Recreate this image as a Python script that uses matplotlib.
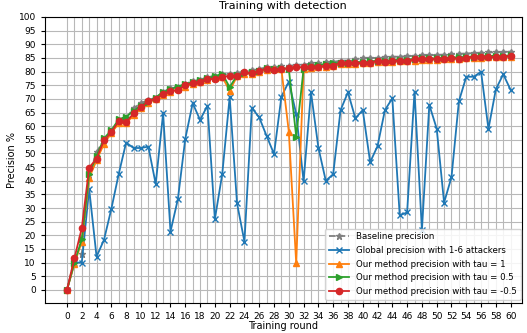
import matplotlib
matplotlib.use("Agg")
import matplotlib.pyplot as plt
import numpy as np
from matplotlib.ticker import FixedLocator

rounds = list(range(61))

baseline = [0, 11, 13, 42, 50.5, 55, 58, 62, 63, 66.5,
            68.5, 69.5, 70.5, 72.5, 74, 74.5, 75.5, 76.5, 77, 78,
            78.5, 79, 79, 79.5, 80, 80.5, 81, 81.5, 81.5, 82,
            82, 82.5, 82.5, 83, 83, 83.5, 83.5, 84, 84, 84.5,
            84.9, 85, 85, 85.2, 85.4, 85.5, 85.6, 85.8, 85.9, 86,
            86.1, 86.2, 86.4, 86.5, 86.6, 86.8, 86.9, 87, 87.1, 87.2, 87.3]

global_prec = [0, 10, 10, 37, 12.2, 18.3, 29.7, 42.5, 54, 52,
               52, 52.5, 38.8, 64.7, 21.4, 33.3, 55.4, 68.4, 62.3, 67.5,
               25.9, 42.5, 70.6, 31.7, 17.7, 66.7, 63.2, 56.4, 49.8, 70.8,
               76.3, 64.5, 39.8, 72.4, 52.1, 40, 42.4, 65.9, 72.4, 62.9,
               65.9, 46.8, 52.7, 65.9, 70.2, 27.3, 28.4, 72.6, 22, 67.8,
               59.1, 32, 41.3, 69.1, 78.1, 78.1, 79.9, 59, 73.5, 79, 73.3]

tau_1 = [0, 9.5, 17.7, 41, 47.5, 53.5, 57.5, 61, 61, 64,
         66.5, 68.5, 70, 71.5, 72.5, 73.5, 74.5, 75.5, 76, 77,
         77.5, 78, 73, 78.2, 79.2, 79.2, 80, 80.5, 80.8, 80.8,
         58, 9.8, 81, 81.3, 81.5, 81.8, 82, 82.6, 82.6, 82.8,
         83, 83, 83.5, 83.5, 83.6, 83.7, 83.8, 84, 84.2, 84.3,
         84.4, 84.5, 84.7, 84.7, 84.9, 85, 85.1, 85.2, 85.2, 85.3, 85.4]

tau_05 = [0, 10, 18.5, 42.5, 49, 55.5, 58.5, 62.5, 63.5, 65.5,
          67.5, 69, 70.5, 72.5, 73.5, 74.5, 75.5, 76, 76.8, 77.5,
          78.3, 79.2, 74.3, 78.6, 79.5, 79.8, 80.3, 81.2, 81, 81.2,
          81, 56.2, 81, 82.2, 82.5, 82.7, 83, 83.2, 83.2, 83.5,
          83.5, 83.8, 83.9, 84, 84.2, 84.3, 84.4, 84.6, 84.8, 84.8,
          84.9, 85, 85.2, 85.2, 85.4, 85.5, 85.6, 85.7, 85.8, 85.8, 85.9]

tau_m05 = [0, 11.6, 22.6, 44.8, 48.1, 54.8, 57.8, 61.9, 61.4, 64.7,
           66.9, 69.2, 70, 71.8, 72.8, 73.3, 75, 75.9, 76.2, 77.3,
           77.3, 78.1, 78.4, 78.4, 79.7, 79.4, 80.3, 81, 80.6, 81,
           81.2, 81.6, 81.6, 81.6, 81.8, 82.2, 82.2, 83.3, 83, 83,
           83.3, 83.3, 84, 83.6, 83.9, 84, 83.9, 84.5, 84.6, 84.6,
           84.6, 84.6, 85.1, 84.6, 85.1, 85.5, 85.5, 85.3, 85.3, 85.5, 85.7]

fig = plt.figure(figsize=(5.27, 3.33), dpi=100)
ax = fig.add_axes([0.085, 0.09, 0.905, 0.859])

ax.plot(rounds, baseline, "--*", color="tab:gray", lw=1.3, ms=5, label="Baseline precision")
ax.plot(rounds, global_prec, "-x", color="tab:blue", lw=1.3, ms=4, label="Global precision with 1-6 attackers")
ax.plot(rounds, tau_1, "-^", color="tab:orange", lw=1.3, ms=4.5, label="Our method precision with tau = 1")
ax.plot(rounds, tau_05, "->", color="tab:green", lw=1.3, ms=4.5, label="Our method precision with tau = 0.5")
ax.plot(rounds, tau_m05, "-o", color="tab:red", lw=1.3, ms=4.5, label="Our method precision with tau = -0.5")

ax.set_xlim(-3, 61.5)
ax.set_ylim(-4.8, 100)
ax.xaxis.set_major_locator(FixedLocator(list(range(0, 61, 2))))
ax.xaxis.set_minor_locator(FixedLocator(list(range(1, 61, 2))))
ax.yaxis.set_major_locator(FixedLocator(list(range(0, 101, 5))))
ax.tick_params(which="minor", length=0)
ax.tick_params(labelsize=6.5, length=3)
ax.grid(which="both", color="#b8b8b8", lw=0.8)
ax.set_axisbelow(True)

ax.set_title("Training with detection", fontsize=8)
ax.set_xlabel("Training round", fontsize=7, labelpad=0)
ax.set_ylabel("Precision %", fontsize=7, labelpad=1)
ax.legend(loc="lower right", bbox_to_anchor=(1.005, 0.0), fontsize=6.2, framealpha=0.85,
          handlelength=2.4, labelspacing=0.55, borderaxespad=0.4)

fig.savefig("out.png", dpi=100)
